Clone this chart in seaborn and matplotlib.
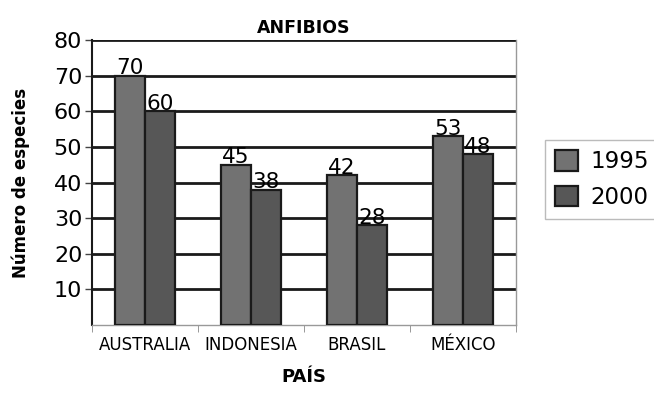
import pandas as pd
import matplotlib
matplotlib.use("Agg")
import matplotlib.pyplot as plt
import seaborn as sns

sns.set_style("white")
plt.rcParams['font.family'] = ['DejaVu Sans']
plt.rcParams['text.color'] = 'black'
plt.rcParams['axes.labelcolor'] = 'black'
plt.rcParams['xtick.color'] = 'black'
plt.rcParams['ytick.color'] = 'black'

paises = ["AUSTRALIA", "INDONESIA", "BRASIL", "MÉXICO"]
anios = ["1995", "2000"]
especies_1995 = [70, 45, 42, 53]
especies_2000 = [60, 38, 28, 48]
colores = ["#727272", "#575757"]

df = pd.DataFrame({
    "pais": paises * 2,
    "anio": [anios[0]] * 4 + [anios[1]] * 4,
    "especies": especies_1995 + especies_2000,
})

fig = plt.figure(figsize=(6.54, 3.94), dpi=100)
ax = fig.add_axes([0.1407, 0.1751, 0.6483, 0.7234])

sns.barplot(data=df, x="pais", y="especies", hue="anio", palette=colores,
            width=0.57, gap=0, edgecolor="#1a1a1a", linewidth=1.6,
            ax=ax, legend=True, zorder=3)

for c in ax.containers:
    ax.bar_label(c, fontsize=15.5, padding=-2)

ax.set_ylim(0, 80)
ax.set_xlim(-0.5, 3.5)
ax.set_yticks(range(10, 81, 10))
ax.tick_params(axis="y", labelsize=16, length=5, width=1, color="#444444",
               direction="out", left=True, pad=2)
ax.tick_params(axis="x", which="major", length=0, labelsize=12, pad=8)
ax.set_xticks([-0.5, 0.5, 1.5, 2.5, 3.5], minor=True)
ax.tick_params(axis="x", which="minor", length=5, color="#888888", bottom=True)
ax.yaxis.grid(True, color="#1a1a1a", linewidth=2)
ax.set_axisbelow(True)

ax.spines["top"].set_visible(False)
ax.spines["right"].set_color("#999999")
ax.spines["right"].set_linewidth(1)
ax.spines["bottom"].set_color("#999999")
ax.spines["bottom"].set_linewidth(1)
ax.spines["left"].set_color("#1a1a1a")
ax.spines["left"].set_linewidth(1.5)

ax.set_title("ANFIBIOS", fontsize=12.5, fontweight="bold", pad=5)
ax.set_ylabel("Número de especies", fontsize=12, fontweight="bold", labelpad=17)
ax.set_xlabel("PAÍS", fontsize=13, fontweight="bold", labelpad=10)

handles, labels = ax.get_legend_handles_labels()
ax.get_legend().remove()
leg = fig.legend(handles, labels, loc="upper left", bbox_to_anchor=(0.833, 0.645),
                 borderaxespad=0, fontsize=16.5, frameon=True, fancybox=False,
                 edgecolor="#aaaaaa", handlelength=1.0, handleheight=1.0,
                 handletextpad=0.55, borderpad=0.45, labelspacing=0.55)

fig.savefig("out.png", dpi=100)
